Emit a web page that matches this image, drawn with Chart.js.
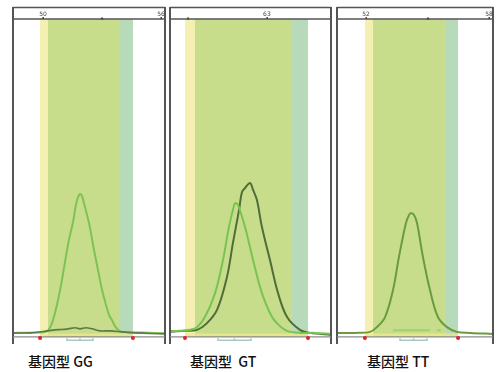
<!DOCTYPE html>
<html>
<head>
<meta charset="utf-8">
<script src="https://cdn.jsdelivr.net/npm/chart.js@4/dist/chart.umd.min.js"></script>
<style>
  html, body { margin: 0; padding: 0; background: #ffffff; }
  body { width: 498px; height: 372px; position: relative; overflow: hidden; }
  canvas { position: absolute; }
  .lab { position: absolute; top: 352px; font-family: "Noto Sans CJK SC", sans-serif; font-size: 14px; font-weight: 500; color: #111; white-space: pre; line-height: 18px; }
</style>
</head>
<body>
<canvas id="c1" width="156" height="341" style="left:11px;top:5px"></canvas>
<canvas id="c2" width="165" height="341" style="left:168px;top:5px"></canvas>
<canvas id="c3" width="160" height="341" style="left:335px;top:5px"></canvas>
<div class="lab" id="l1" style="left:28px"></div>
<div class="lab" id="l2" style="left:190px"></div>
<div class="lab" id="l3" style="left:367px"></div>
<script>
// ---- data ----
const categories = ['基因型 GG', '基因型  GT', '基因型 TT'];
// band edges per panel (x units, 0-100 across the panel): yellow start, green start, green end, teal end
const bands1 = [17.8, 23.0, 70.4, 78.9];
const bands2 = [9.3, 15.5, 75.8, 85.7];
const bands3 = [17.9, 23.1, 69.2, 77.6];
// header tick labels [x, label]
const ticks1 = [[19.7, '50'], [98, '56']];
const ticks2 = [[60.2, '63']];
const ticks3 = [[18.6, '52'], [98, '58']];
// small marker positions on the header
const marks1 = [58.6];
const marks2 = [11.2];
const marks3 = [58.3];
// bracket ranges under each panel
const bracket1 = [35.5, 52.6];
const bracket2 = [29.8, 50.3];
const bracket3 = [40.4, 57.7];

// panel 1 (GG)
const p1LightX = [0, 15, 21.7, 24.3, 26.3, 28.9, 31.6, 34.2, 36.8, 39.5, 41.4, 42.8, 44.1, 45.4, 46.7, 48.7, 50.7, 53.3, 55.9, 58.6, 61.2, 63.2, 65.1, 67.1, 69.1, 71.7, 85, 100];
const p1LightY = [0.3, 0.4, 0.6, 1.8, 4.1, 8.6, 14.5, 21.3, 27.9, 33.2, 38.3, 40.6, 41.5, 40.9, 38.8, 35.3, 31.4, 24.9, 19.0, 13.0, 8.6, 5.6, 4.1, 2.3, 1.2, 0.6, 0.4, 0.2];
const p1DarkX = [0, 11.2, 23.0, 27.6, 32.2, 36.2, 40.8, 44.1, 48.0, 52.0, 57.2, 63.8, 71.7, 80.3, 90.1, 100];
const p1DarkY = [0.3, 0.3, 0.9, 1.2, 1.3, 1.5, 1.8, 1.5, 1.8, 1.5, 0.9, 0.9, 0.6, 0.3, 0.1, 0.0];

// panel 2 (GT)
const p2LightX = [0, 6.2, 12.4, 16.8, 21.7, 28.0, 32.9, 36.6, 39.1, 40.4, 42.2, 46.6, 51.6, 57.1, 63.4, 68.3, 72.7, 80.7, 90.1, 100];
const p2LightY = [0.9, 0.9, 1.2, 2.0, 5.0, 12.1, 21.9, 31.7, 36.8, 38.8, 38.3, 31.7, 21.9, 12.1, 5.0, 2.3, 0.9, 0.3, 0.3, 0.0];
const p2DarkX = [0, 9.3, 16.8, 23.0, 29.2, 35.4, 39.1, 42.9, 44.7, 46.6, 49.7, 51.6, 54.0, 57.1, 62.1, 67.1, 72.7, 80.7, 87.0, 100];
const p2DarkY = [0.6, 0.9, 1.2, 3.2, 7.1, 16.9, 27.0, 36.8, 42.1, 43.3, 44.8, 42.7, 39.7, 31.7, 21.9, 12.1, 5.0, 1.2, 0.3, -0.3];

// panel 3 (TT)
const p3X = [0, 11.5, 21.2, 25.6, 30.8, 35.9, 39.7, 44.2, 46.2, 47.4, 49.4, 51.3, 55.1, 59.6, 64.7, 70.5, 76.9, 85.3, 100];
const p3Y = [0.3, 0.3, 0.6, 2.0, 5.0, 13.0, 22.8, 32.9, 35.3, 35.9, 35.3, 32.9, 22.8, 13.0, 5.0, 2.0, 0.6, 0.3, 0.0];
const p3BaseX = [35.9, 59.6, null, 64.0, 66.5];
const p3BaseY = [1.1, 1.1, null, 1.1, 1.1];

// ---- helpers ----
function pts(xs, ys) {
  return xs.map((x, i) => (x === null ? { x: NaN, y: NaN } : { x: x, y: ys[i] }));
}

const COL_YEL = '#f3f0b2';
const COL_GRN = '#c8dd8c';
const COL_TEAL = '#b7dabb';

function panelPlugin(bands, ticks, marks, bracket) {
  return {
    id: 'panelDeco',
    beforeDatasetsDraw(chart) {
      const { ctx, chartArea: a, scales: { x, y } } = chart;
      const top = a.top + 12;
      const bot = y.getPixelForValue(-0.9);
      const px = bands.map(v => x.getPixelForValue(v));
      ctx.save();
      ctx.fillStyle = COL_YEL; ctx.fillRect(px[0], top, px[1] - px[0], bot - top);
      ctx.fillStyle = COL_GRN; ctx.fillRect(px[1], top, px[2] - px[1], bot - top);
      ctx.fillStyle = COL_TEAL; ctx.fillRect(px[2], top, px[3] - px[2], bot - top);
      // faint yellow strip along the baseline
      const yb0 = y.getPixelForValue(0.1);
      ctx.fillStyle = 'rgba(240,232,140,0.75)';
      ctx.fillRect(px[0], yb0, px[3] - px[0], bot - yb0);
      ctx.restore();
    },
    afterDatasetsDraw(chart) {
      const { ctx, chartArea: a, scales: { x, y } } = chart;
      ctx.save();
      // frame
      ctx.strokeStyle = '#555';
      ctx.lineWidth = 2;
      ctx.beginPath();
      ctx.moveTo(a.left, a.top); ctx.lineTo(a.left, a.bottom);
      ctx.moveTo(a.right, a.top); ctx.lineTo(a.right, a.bottom);
      ctx.stroke();
      ctx.lineWidth = 1.5;
      ctx.beginPath();
      ctx.moveTo(a.left, a.top + 0.5); ctx.lineTo(a.right, a.top + 0.5);
      ctx.moveTo(a.left, a.top + 12); ctx.lineTo(a.right, a.top + 12);
      ctx.stroke();
      // bottom grey line
      const bot = y.getPixelForValue(-0.9);
      ctx.strokeStyle = '#8a8a8a';
      ctx.lineWidth = 1.2;
      ctx.beginPath();
      ctx.moveTo(a.left, bot); ctx.lineTo(a.right, bot);
      ctx.stroke();
      // red dots at the band limits
      ctx.fillStyle = '#e0202a';
      [bands[0], bands[3]].forEach(v => {
        ctx.beginPath();
        ctx.arc(x.getPixelForValue(v), y.getPixelForValue(-1.2), 2, 0, Math.PI * 2);
        ctx.fill();
      });
      // bracket under the panel
      const b0 = x.getPixelForValue(bracket[0]), b1 = x.getPixelForValue(bracket[1]);
      const yb = y.getPixelForValue(-1.9);
      ctx.strokeStyle = '#a9c9c0';
      ctx.lineWidth = 1.5;
      ctx.beginPath();
      ctx.moveTo(b0, yb - 2); ctx.lineTo(b0, yb); ctx.lineTo(b1, yb); ctx.lineTo(b1, yb - 2);
      ctx.moveTo((b0 + b1) / 2, yb); ctx.lineTo((b0 + b1) / 2, yb - 2);
      ctx.stroke();
      // header tick labels and marks
      ctx.fillStyle = '#444';
      ctx.font = '6px "DejaVu Sans"';
      ctx.textAlign = 'center';
      ctx.textBaseline = 'alphabetic';
      ticks.forEach(t => {
        const tx = Math.min(x.getPixelForValue(t[0]), a.right - 4);
        ctx.fillText(t[1], tx, a.top + 9);
        ctx.fillRect(tx - 0.5, a.top + 10, 1.5, 2);
      });
      marks.forEach(m => {
        ctx.fillRect(x.getPixelForValue(m) - 1, a.top + 10.5, 2, 2);
      });
      ctx.restore();
    }
  };
}

function makeChart(id, datasets, bands, ticks, marks, bracket) {
  return new Chart(document.getElementById(id), {
    type: 'scatter',
    data: { datasets: datasets },
    options: {
      responsive: false,
      animation: false,
      layout: { padding: 2 },
      plugins: { legend: { display: false }, tooltip: { enabled: false } },
      elements: { point: { radius: 0 }, line: { tension: 0.35, borderWidth: 2 } },
      scales: {
        x: { type: 'linear', min: 0, max: 100, display: false },
        y: { type: 'linear', min: -3, max: 97, display: false }
      }
    },
    plugins: [panelPlugin(bands, ticks, marks, bracket)]
  });
}

function line(xs, ys, color, w) {
  return { data: pts(xs, ys), showLine: true, borderColor: color, borderWidth: w || 2, pointRadius: 0, spanGaps: false };
}

makeChart('c1', [
  line(p1DarkX, p1DarkY, '#5b7a45', 1.6),
  line(p1LightX, p1LightY, '#7cc257', 2)
], bands1, ticks1, marks1, bracket1);

makeChart('c2', [
  line(p2LightX, p2LightY, '#78c452', 2),
  line(p2DarkX, p2DarkY, '#4d6f37', 2)
], bands2, ticks2, marks2, bracket2);

makeChart('c3', [
  line(p3BaseX, p3BaseY, '#9fd36a', 2),
  line(p3X, p3Y, '#6a9b3e', 2)
], bands3, ticks3, marks3, bracket3);

document.getElementById('l1').textContent = categories[0];
document.getElementById('l2').textContent = categories[1];
document.getElementById('l3').textContent = categories[2];
</script>
</body>
</html>
